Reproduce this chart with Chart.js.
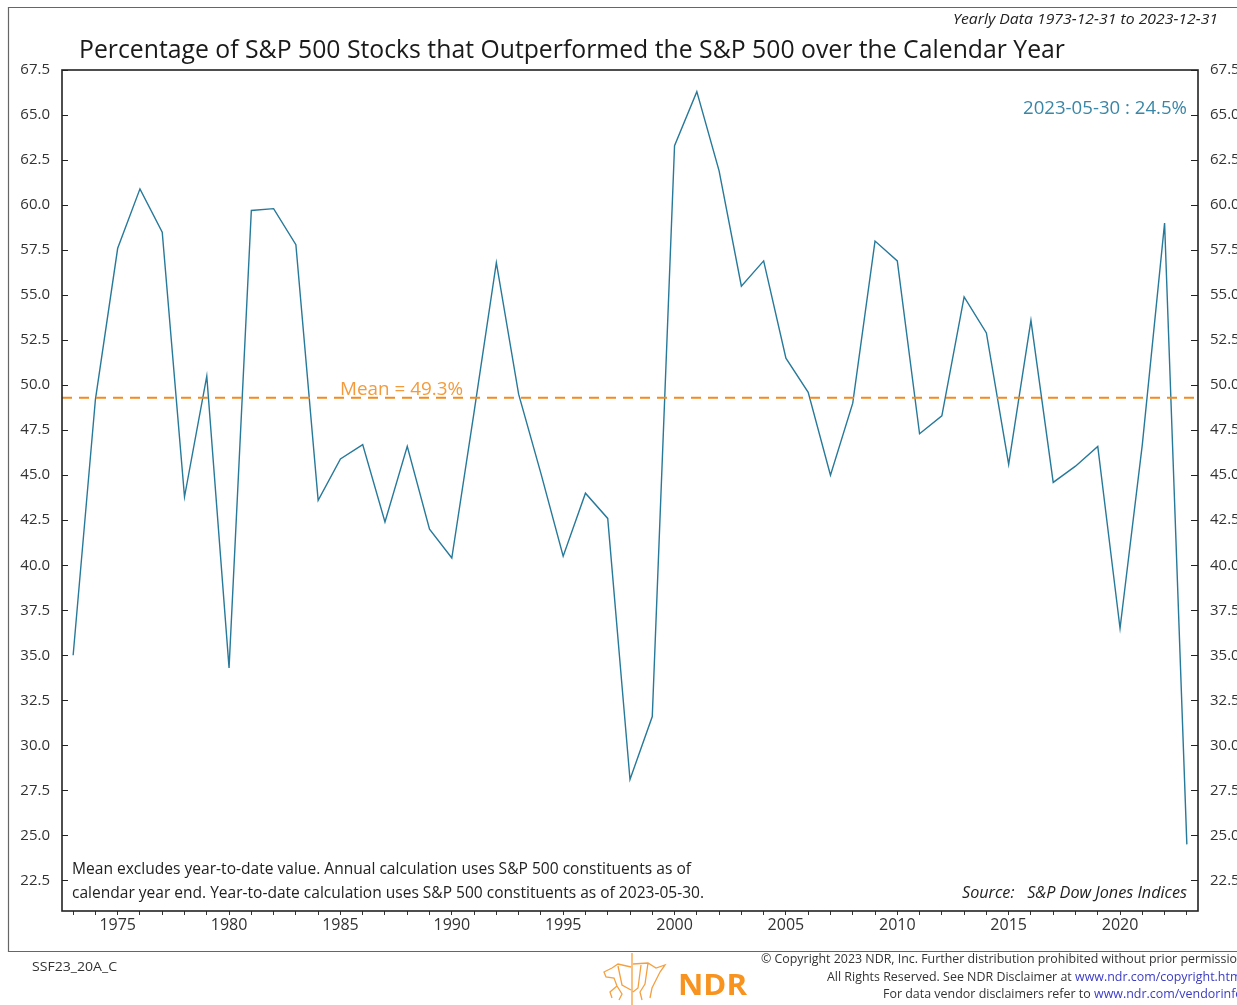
<!DOCTYPE html>
<html>
<head>
<meta charset="utf-8">
<script src="https://cdn.jsdelivr.net/npm/chart.js@4.4.1/dist/chart.umd.min.js"></script>
<style>
  html, body { margin: 0; padding: 0; background: #fff; overflow: hidden; }
  #chart { display: block; }
</style>
</head>
<body>
<canvas id="chart" width="1300" height="1005"></canvas>
<script>
// yearly data, 2023 is the year-to-date value (2023-05-30)
const years = [
  1973, 1974, 1975, 1976, 1977, 1978, 1979, 1980, 1981, 1982,
  1983, 1984, 1985, 1986, 1987, 1988, 1989, 1990, 1991, 1992,
  1993, 1994, 1995, 1996, 1997, 1998, 1999, 2000, 2001, 2002,
  2003, 2004, 2005, 2006, 2007, 2008, 2009, 2010, 2011, 2012,
  2013, 2014, 2015, 2016, 2017, 2018, 2019, 2020, 2021, 2022,
  2023,
];
const pctOutperformed = [
  35.0, 49.2, 57.6, 60.9, 58.5, 43.8, 50.5, 34.3, 59.7, 59.8,
  57.8, 43.6, 45.9, 46.7, 42.4, 46.6, 42.0, 40.4, 48.5, 56.8,
  49.5, 45.1, 40.5, 44.0, 42.6, 28.1, 31.6, 63.3, 66.3, 61.9,
  55.5, 56.9, 51.5, 49.6, 45.0, 49.0, 58.0, 56.9, 47.3, 48.3,
  54.9, 52.9, 45.6, 53.6, 44.6, 45.5, 46.6, 36.5, 46.7, 59.0,
  24.5,
];
const meanValue = 49.3;
const yTicks = [22.5, 25.0, 27.5, 30.0, 32.5, 35.0, 37.5, 40.0, 42.5, 45.0,
  47.5, 50.0, 52.5, 55.0, 57.5, 60.0, 62.5, 65.0, 67.5];
const xLabelYears = [1975, 1980, 1985, 1990, 1995, 2000, 2005, 2010, 2015, 2020];

const FONT = '"Open Sans", "Liberation Sans", sans-serif';
const LINE_COLOR = "#27799a";
const MEAN_COLOR = "#f28a1e";
const TEXT_COLOR = "#222";

Chart.defaults.font.family = FONT;
Chart.defaults.font.size = 15;
Chart.defaults.color = "#333";

// draw text squeezed/stretched horizontally to a given width
function scaleFor(ctx, text, font, width) {
  ctx.font = font;
  return width / ctx.measureText(text).width;
}
function drawParts(ctx, parts, x, y, font, sx) {
  ctx.save();
  ctx.font = font;
  ctx.textAlign = "left";
  ctx.textBaseline = "alphabetic";
  ctx.translate(x, y);
  ctx.scale(sx, 1);
  let cx = 0;
  parts.forEach(([t, color]) => {
    ctx.fillStyle = color;
    ctx.fillText(t, cx, 0);
    cx += ctx.measureText(t).width;
  });
  ctx.restore();
}
function fitText(ctx, text, x, y, width, font, color) {
  drawParts(ctx, [[text, color]], x, y, font, scaleFor(ctx, text, font, width));
}

const decorPlugin = {
  id: "decor",
  afterDatasetsDraw(chart) {
    const { ctx, chartArea, scales } = chart;
    const my = scales.y.getPixelForValue(meanValue);
    ctx.save();
    ctx.strokeStyle = MEAN_COLOR;
    ctx.lineWidth = 2;
    ctx.setLineDash([10, 7]);
    ctx.beginPath();
    ctx.moveTo(chartArea.left, my);
    ctx.lineTo(chartArea.right, my);
    ctx.stroke();
    ctx.restore();
  },
  afterDraw(chart) {
    const { ctx, chartArea, scales } = chart;
    const { left, right, top, bottom } = chartArea;

    // plot frame + inward y ticks
    ctx.save();
    ctx.strokeStyle = "#222";
    ctx.lineWidth = 1.6;
    ctx.strokeRect(left, top, right - left, bottom - top);
    ctx.lineWidth = 1.2;
    yTicks.forEach((v) => {
      const py = Math.round(scales.y.getPixelForValue(v)) + 0.5;
      ctx.beginPath();
      ctx.moveTo(left, py); ctx.lineTo(left + 6, py);
      ctx.moveTo(right - 7, py); ctx.lineTo(right, py);
      ctx.stroke();
    });

    // outer page frame
    ctx.strokeStyle = "#666";
    ctx.lineWidth = 1.2;
    ctx.beginPath();
    ctx.moveTo(1300, 7.5); ctx.lineTo(8.5, 7.5); ctx.lineTo(8.5, 951.5); ctx.lineTo(1300, 951.5);
    ctx.stroke();
    ctx.restore();

    // texts
    fitText(ctx, "Yearly Data 1973-12-31 to 2023-12-31", 953, 24, 265, `italic 15px ${FONT}`, TEXT_COLOR);
    fitText(ctx, "Percentage of S&P 500 Stocks that Outperformed the S&P 500 over the Calendar Year", 79, 58, 986, `26px ${FONT}`, "#1a1a1a");
    fitText(ctx, "Mean = 49.3%", 340, 395, 123, `19px ${FONT}`, "#f39b3c");
    fitText(ctx, "2023-05-30 : 24.5%", 1023, 114, 164, `19px ${FONT}`, "#3a86a6");
    fitText(ctx, "Mean excludes year-to-date value. Annual calculation uses S&P 500 constituents as of", 72, 874, 619, `16px ${FONT}`, TEXT_COLOR);
    fitText(ctx, "calendar year end. Year-to-date calculation uses S&P 500 constituents as of 2023-05-30.", 72, 898, 632, `16px ${FONT}`, TEXT_COLOR);
    fitText(ctx, "Source:   S&P Dow Jones Indices", 962, 898, 225, `italic 16px ${FONT}`, TEXT_COLOR);

    // footer
    fitText(ctx, "SSF23_20A_C", 32, 971, 85, `13px ${FONT}`, "#333");
    const fFont = `13px ${FONT}`;
    const s1 = scaleFor(ctx, "© Copyright 2023 NDR, Inc. Further distribution prohibited without prior permissio", fFont, 476);
    drawParts(ctx, [["© Copyright 2023 NDR, Inc. Further distribution prohibited without prior permission.", "#333"]], 761, 963, fFont, s1);
    const s2 = scaleFor(ctx, "All Rights Reserved. See NDR Disclaimer at ", fFont, 248);
    drawParts(ctx, [["All Rights Reserved. See NDR Disclaimer at ", "#333"], ["www.ndr.com/copyright.html", "#3b3bc4"]], 827, 981, fFont, s2);
    const s3 = scaleFor(ctx, "For data vendor disclaimers refer to ", fFont, 211);
    drawParts(ctx, [["For data vendor disclaimers refer to ", "#333"], ["www.ndr.com/vendorinfo/", "#3b3bc4"]], 883, 998, fFont, s3);

    // NDR logo
    fitText(ctx, "NDR", 678, 995, 69, `bold 28px ${FONT}`, "#f7931e");
    ctx.save();
    ctx.strokeStyle = "#f5a040";
    ctx.lineWidth = 1.3;
    ctx.beginPath();
    ctx.moveTo(632, 953); ctx.lineTo(632, 1005);
    // bear
    ctx.moveTo(631, 967); ctx.lineTo(618, 964); ctx.lineTo(612, 968); ctx.lineTo(604, 972);
    ctx.lineTo(606, 977); ctx.lineTo(614, 978); ctx.lineTo(617, 986); ctx.lineTo(622, 994);
    ctx.lineTo(619, 1000); ctx.moveTo(617, 986); ctx.lineTo(610, 992); ctx.lineTo(612, 998);
    ctx.moveTo(618, 966); ctx.lineTo(622, 985); ctx.lineTo(631, 990);
    // bull
    ctx.moveTo(633, 964); ctx.lineTo(648, 963); ctx.lineTo(656, 968); ctx.lineTo(665, 965);
    ctx.lineTo(660, 972); ctx.lineTo(656, 980); ctx.lineTo(652, 988); ctx.lineTo(650, 998);
    ctx.moveTo(648, 963); ctx.lineTo(645, 984); ctx.lineTo(640, 992); ctx.lineTo(642, 1000);
    ctx.moveTo(641, 965); ctx.lineTo(638, 988); ctx.lineTo(633, 992);
    ctx.stroke();
    ctx.restore();
  },
};

new Chart(document.getElementById("chart"), {
  type: "line",
  data: {
    datasets: [
      {
        label: "Pct outperformed",
        data: years.map((yr, i) => ({ x: yr, y: pctOutperformed[i] })),
        borderColor: LINE_COLOR,
        borderWidth: 1.4,
        pointRadius: 0,
        tension: 0,
        fill: false,
      },
    ],
  },
  options: {
    responsive: false,
    animation: false,
    devicePixelRatio: 1,
    layout: { padding: { top: 70, left: 0, right: 0, bottom: 0 } },
    plugins: { legend: { display: false }, tooltip: { enabled: false } },
    scales: {
      x: {
        type: "linear",
        min: 1972.5,
        max: 2023.5,
        afterBuildTicks: (s) => { s.ticks = years.map((v) => ({ value: v })); },
        afterFit: (s) => { s.height = 94; },
        ticks: {
          autoSkip: false,
          maxRotation: 0,
          padding: 1,
          color: "#333",
          font: { size: 16 },
          callback: (v) => (xLabelYears.includes(v) ? String(v) : ""),
        },
        grid: { display: true, drawOnChartArea: false, drawTicks: true, tickLength: 4, tickColor: "#333", color: "#333" },
        border: { display: false },
      },
      y: {
        position: "left",
        min: 20.8,
        max: 67.5,
        afterBuildTicks: (s) => { s.ticks = yTicks.map((v) => ({ value: v })); },
        afterFit: (s) => { s.width = 62; },
        ticks: { padding: 12, color: "#333", callback: (v) => v.toFixed(1) },
        grid: { display: false, drawTicks: false },
        border: { display: false },
      },
      y2: {
        position: "right",
        min: 20.8,
        max: 67.5,
        afterBuildTicks: (s) => { s.ticks = yTicks.map((v) => ({ value: v })); },
        afterFit: (s) => { s.width = 102; },
        ticks: { padding: 12, color: "#333", callback: (v) => v.toFixed(1) },
        grid: { display: false, drawTicks: false },
        border: { display: false },
      },
    },
  },
  plugins: [decorPlugin],
});
</script>
</body>
</html>
